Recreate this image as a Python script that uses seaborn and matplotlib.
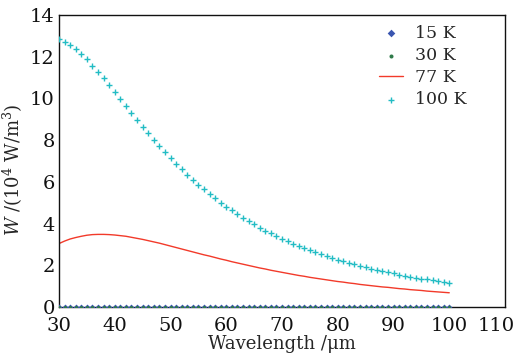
import matplotlib
matplotlib.use("Agg")
import matplotlib.pyplot as plt
import matplotlib.transforms as mtransforms
import seaborn as sns
import pandas as pd

# Wavelength (um), 30..100 step 1
wavelength = list(range(30, 101))

w_15k = [0.0] * 71
w_30k = [0.0] * 71
w_77k = [3.04,3.16,3.26,3.33,3.39,3.44,3.47,3.48,3.48,3.47,3.45,3.42,3.39,3.34,3.29,3.24,3.18,3.12,3.06,2.99,
         2.92,2.85,2.78,2.71,2.64,2.57,2.50,2.44,2.37,2.30,2.24,2.17,2.11,2.05,1.99,1.93,1.87,1.82,1.76,1.71,
         1.66,1.61,1.56,1.51,1.47,1.42,1.38,1.34,1.30,1.26,1.22,1.19,1.15,1.12,1.08,1.05,1.02,0.99,0.96,0.94,
         0.91,0.88,0.86,0.83,0.81,0.79,0.76,0.74,0.72,0.70,0.68]
w_100k = [12.83,12.73,12.57,12.38,12.14,11.87,11.58,11.28,10.96,10.63,10.30,9.96,9.63,9.29,8.96,8.64,8.32,8.02,7.71,7.42,
          7.14,6.87,6.60,6.35,6.10,5.86,5.64,5.42,5.21,5.00,4.81,4.63,4.45,4.28,4.11,3.96,3.81,3.66,3.53,3.40,
          3.27,3.15,3.03,2.92,2.82,2.71,2.62,2.52,2.43,2.35,2.27,2.19,2.11,2.04,1.97,1.90,1.84,1.78,1.72,1.66,
          1.61,1.55,1.50,1.45,1.41,1.36,1.32,1.28,1.24,1.20,1.16]

labels = ["15 K", "30 K", "77 K", "100 K"]
x_ticks = [30, 40, 50, 60, 70, 80, 90, 100, 110]
y_ticks = [0, 2, 4, 6, 8, 10, 12, 14]

sns.set_theme(style="white")
plt.rcParams["font.family"] = ["DejaVu Serif"]
plt.rcParams["mathtext.fontset"] = "dejavuserif"

df = pd.DataFrame({"wl": wavelength, "15 K": w_15k, "30 K": w_30k, "77 K": w_77k, "100 K": w_100k})

fig = plt.figure(figsize=(5.15, 3.59), dpi=100)
ax = fig.add_axes([0.1146, 0.145, 0.866, 0.813])

sns.scatterplot(data=df, x="wl", y="100 K", ax=ax, marker="+", s=14, color="#22bcc4",
                linewidth=1.0, label="100 K", zorder=3)
sns.lineplot(data=df, x="wl", y="77 K", ax=ax, color="#f23a2a", linewidth=1.0, label="77 K", zorder=2)
sns.scatterplot(data=df, x="wl", y="30 K", ax=ax, marker="o", s=5, color="#2f7a4a",
                linewidth=0, label="30 K", zorder=4)
sns.scatterplot(data=df, x="wl", y="15 K", ax=ax, marker="D", s=9, color="#3a56b0",
                linewidth=0, label="15 K", zorder=3)

ax.set_xlim(30, 110)
ax.set_ylim(0, 14)
ax.set_xticks(x_ticks)
ax.set_yticks(y_ticks)
ax.tick_params(direction="in", length=4, width=0.8, labelsize=14, colors="#111111", pad=3)
ax.tick_params(axis="x", pad=7)
for sp in ax.spines.values():
    sp.set_visible(True)
    sp.set_color("#111111")
    sp.set_linewidth(1.0)

# shift last x tick label left so it stays within the figure
lbls = ax.get_xticklabels()
off = mtransforms.ScaledTranslation(-9 / 100, 0, fig.dpi_scale_trans)
lbls[-1].set_transform(lbls[-1].get_transform() + off)

ax.set_xlabel("Wavelength /\u03bcm", fontsize=13, labelpad=0)
ax.set_ylabel(r"$\mathit{W}$ /(10$^{4}$ W/m$^{3}$)", fontsize=13)
ax.yaxis.set_label_coords(-0.077, 0.47)

h, l = ax.get_legend_handles_labels()
order = [l.index(k) for k in labels]
leg = ax.legend([h[i] for i in order], [l[i] for i in order], loc="upper right",
                bbox_to_anchor=(0.95, 1.02), frameon=False, fontsize=12.5,
                handlelength=1.4, handletextpad=0.7, labelspacing=0.3, markerscale=1.3)

fig.savefig("out.png", dpi=100, facecolor="white")
